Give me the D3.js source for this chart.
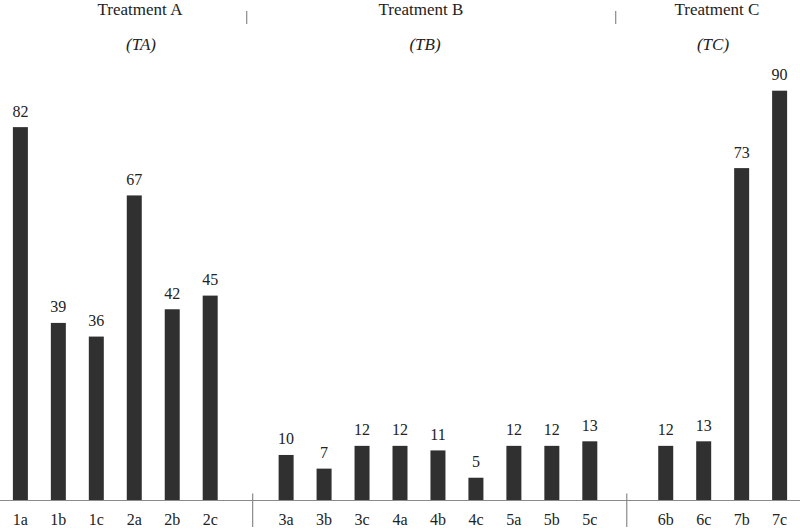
<!DOCTYPE html>
<html><head><meta charset="utf-8">
<script src="https://cdn.jsdelivr.net/npm/d3@7/dist/d3.min.js"></script>
<style>body{margin:0;background:#fff}svg{display:block}</style>
</head><body><svg id="c" width="800" height="529"></svg>
<script>
const categories = ["1a","1b","1c","2a","2b","2c","3a","3b","3c","4a","4b","4c","5a","5b","5c","6b","6c","7b","7c"];
const values = [82,39,36,67,42,45,10,7,12,12,11,5,12,12,13,12,13,73,90];
const groupOf = [0,0,0,0,0,0,1,1,1,1,1,1,1,1,1,2,2,2,2];
const groupNames = ["Treatment A","Treatment B","Treatment C"];
const groupAbbr = ["(TA)","(TB)","(TC)"];
const groupTitleX = [140, 421, 717];
const groupAbbrX = [141, 425, 713];
const topSepX = [246.7, 615.7];

const FONT = "'Liberation Serif', 'Tinos', 'Times New Roman', 'DejaVu Serif', 'Noto Serif', serif";
const W = 800, H = 529;
const svg = d3.select("#c");

const slots = [];
categories.forEach((c,i)=>{
  if(i>0 && groupOf[i]!==groupOf[i-1]) slots.push("gap"+groupOf[i]);
  slots.push(c);
});
const x = d3.scaleBand().domain(slots).range([1.5, 798.5]).paddingInner(0.605).paddingOuter(0.3);
const y = d3.scaleLinear().domain([0, 90]).range([500.5, 90.7]);

svg.selectAll("rect.bar").data(categories).join("rect")
  .attr("class","bar")
  .attr("x", d=>x(d))
  .attr("width", x.bandwidth())
  .attr("y", (d,i)=>y(values[i]))
  .attr("height", (d,i)=>y(0)-y(values[i]))
  .attr("fill","#303030");

svg.selectAll("text.val").data(categories).join("text")
  .attr("class","val")
  .attr("x", d=>x(d)+x.bandwidth()/2)
  .attr("y", (d,i)=>y(values[i])-10.5)
  .attr("text-anchor","middle")
  .style("font-family",FONT).style("font-size","16px").attr("fill","#222")
  .text((d,i)=>values[i]);

const axis = d3.axisBottom(x).tickValues(categories).tickSize(0).tickPadding(0);
const g = svg.append("g").attr("transform",`translate(0,${y(0)})`).call(axis);
g.select(".domain").remove();
g.selectAll("text").attr("dy",null).attr("y",24.5).attr("fill","#222")
  .style("font-family",FONT).style("font-size","16px");
svg.append("line").attr("x1",0).attr("x2",W).attr("y1",y(0)).attr("y2",y(0))
  .attr("stroke","#8a8a8a").attr("stroke-width",1.2);

const gaps = slots.filter(s=>s.startsWith("gap"));
const sepOffset = [4.5, -1];
svg.selectAll("line.bsep").data(gaps).join("line")
  .attr("class","bsep")
  .attr("x1",(d,i)=>x(d)+x.bandwidth()/2+sepOffset[i])
  .attr("x2",(d,i)=>x(d)+x.bandwidth()/2+sepOffset[i])
  .attr("y1",y(0)-7).attr("y2",H-2)
  .attr("stroke","#8a8a8a").attr("stroke-width",1.2);

svg.selectAll("line.tsep").data(topSepX).join("line")
  .attr("class","tsep")
  .attr("x1",d=>d).attr("x2",d=>d).attr("y1",11).attr("y2",24)
  .attr("stroke","#8a8a8a").attr("stroke-width",1.2);

svg.selectAll("text.gt").data(groupNames).join("text")
  .attr("class","gt").attr("x",(d,i)=>groupTitleX[i]).attr("y",15)
  .attr("text-anchor","middle").style("font-family",FONT).style("font-size","17px").attr("fill","#222").text(d=>d);
svg.selectAll("text.ga").data(groupAbbr).join("text")
  .attr("class","ga").attr("x",(d,i)=>groupAbbrX[i]).attr("y",50)
  .attr("text-anchor","middle").style("font-family",FONT).style("font-size","17px").style("font-style","italic").attr("fill","#222").text(d=>d);
</script></body></html>
